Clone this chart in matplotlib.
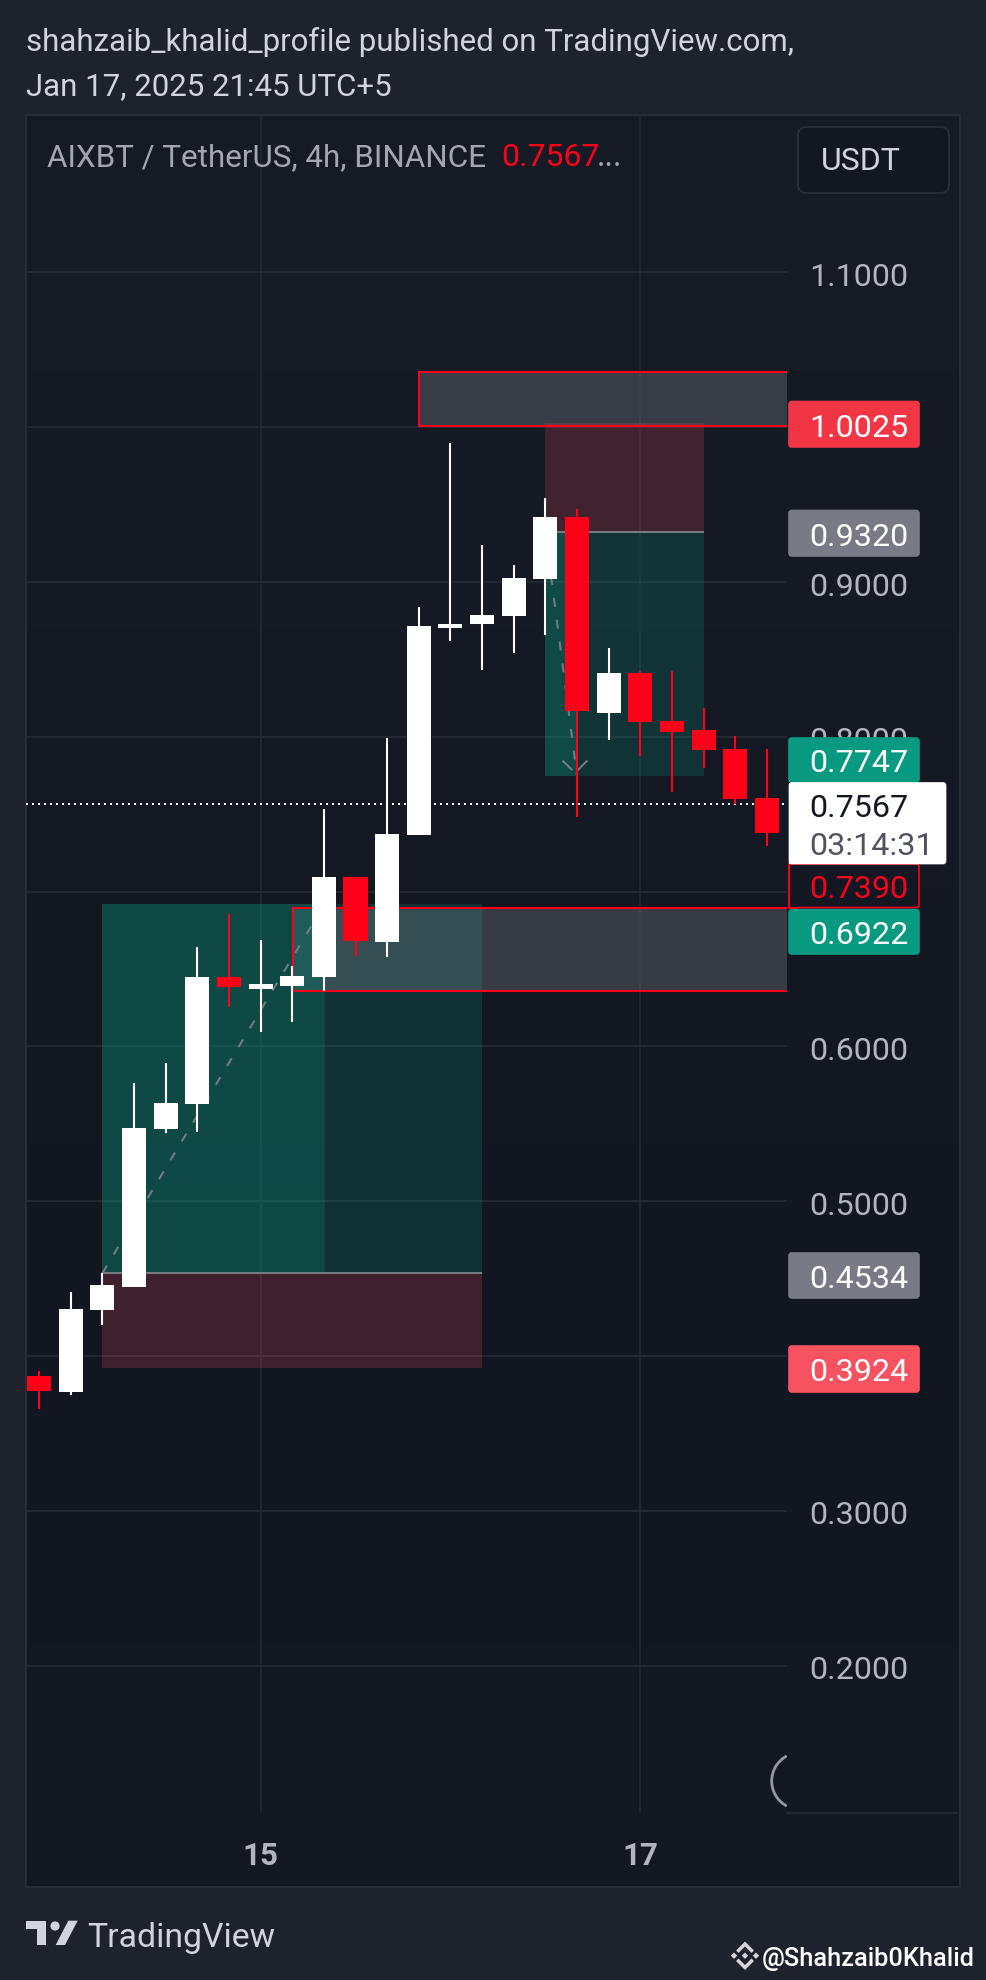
import numpy as np
import matplotlib
matplotlib.use("Agg")
import matplotlib.pyplot as plt
from matplotlib.patches import Rectangle, FancyBboxPatch, Circle, Polygon, Arc
from matplotlib.transforms import ScaledTranslation

plt.rcParams['font.family'] = ['Roboto', 'DejaVu Sans']

# ---------- data ----------
high  = [0.3905,0.4416,0.4539,0.5766,0.5895,0.6644,0.6858,0.6690,0.6522,0.7536,0.7097,0.7995,
         0.8841,0.9896,0.9241,0.9112,0.9545,0.9474,0.8576,0.8423,0.8427,0.8188,0.8007,0.7923]
upper = [0.3873,0.4306,0.4461,0.5475,0.5637,0.6451,0.6451,0.6402,0.6457,0.7097,0.7097,0.7374,
         0.8718,0.8728,0.8785,0.9028,0.9422,0.9422,0.8414,0.8414,0.8104,0.8046,0.7923,0.7607]
lower = [0.3776,0.3770,0.4299,0.4448,0.5469,0.5630,0.6383,0.6373,0.6392,0.6451,0.6683,0.6677,
         0.7365,0.8705,0.8728,0.8783,0.9022,0.8164,0.8156,0.8098,0.8033,0.7917,0.7601,0.7381]
low   = [0.3656,0.3750,0.4203,0.4448,0.5443,0.5449,0.6254,0.6095,0.6160,0.6360,0.6586,0.6580,
         0.7365,0.8621,0.8434,0.8544,0.8660,0.7480,0.7982,0.7878,0.7646,0.7801,0.7568,0.7297]
rising = [0,1,1,1,1,1,0,1,1,1,0,1,1,1,1,1,1,0,1,0,0,0,0,0]

price_ticks = [1.1, 0.9, 0.8, 0.6, 0.5, 0.3, 0.2]
grid_prices = [1.1, 1.0, 0.9, 0.8, 0.7, 0.6, 0.5, 0.4, 0.3, 0.2]
day_ticks = [7, 19]
day_labels = ['15', '17']
last_price = 0.7567

# positions: start, split, end, target, entry, stop
pos_start  = [2, 16]
pos_split  = [9.03, 17]
pos_end    = [14, 21]
pos_target = [0.6922, 0.7747]
pos_entry  = [0.4534, 0.9320]
pos_stop   = [0.3924, 1.0025]

zone_start = [12, 8.03]
zone_top   = [1.0356, 0.6896]
zone_bot   = [1.0006, 0.6360]

# ---------- figure / layers ----------
W, H = 986, 1981
fig = plt.figure(figsize=(W/100, H/100), dpi=100, facecolor='#1e222d')
def rect(x0, y0, x1, y1):
    return [x0/W, 1-y1/H, (x1-x0)/W, (y1-y0)/H]

GRID = '#252934'
AXTXT = '#b2b5be'
Y11 = 273.4   # pixel row of the 1.1 grid line

bg = fig.add_axes([0, 0, 1, 1], zorder=0)
bg.set_xlim(0, W); bg.set_ylim(H, 0); bg.axis('off')
rows = np.arange(116, 1888)
grad = np.stack([np.interp(rows, [116, 1400, 1888], [a, b, c]) for a, b, c in
                 ((23, 18, 20), (27, 22, 24), (38, 32, 34))], axis=1)[:, None, :] / 255
bg.imshow(grad, extent=(26, 960, 1888, 116), aspect='auto', interpolation='bilinear', zorder=0)
bg.set_xlim(0, W); bg.set_ylim(H, 0)
bg.add_patch(Rectangle((26, 116), 934, 1772, fc='none', ec='#292d38', lw=1.4, zorder=1))
bg.plot([787, 960], [1814, 1814], color='#292d38', lw=1.1, zorder=1)

ax = fig.add_axes(rect(26, 116, 787, 1814), zorder=1)
ax.patch.set_alpha(0)
ax.set_xlim((26-39)/31.65, (787-39)/31.65)
ax.set_ylim(1.1-(1814-Y11)/1548, 1.1+(Y11-116)/1548)
for s in ax.spines.values():
    s.set_visible(False)
ax.set_axisbelow(True)
ax.yaxis.tick_right()
ax.set_yticks(price_ticks, [f'{p:.4f}' for p in price_ticks])
ax.set_xticks(day_ticks, day_labels)
ax.tick_params(axis='y', which='both', length=0, pad=16.3, labelsize=23.2, labelcolor=AXTXT)
ax.tick_params(axis='x', length=0, pad=19.5, labelsize=22.5, labelcolor=AXTXT)
for t in ax.get_xticklabels():
    t.set_fontweight('bold')
for g in grid_prices:
    ax.axhline(g, color=GRID, lw=1.3, zorder=0.5)
for d in day_ticks:
    ax.axvline(d, color=GRID, lw=1.1, zorder=0.5)

# positions
for i in range(2):
    s, m, e = pos_start[i], pos_split[i], pos_end[i]
    tgt, en, st = pos_target[i], pos_entry[i], pos_stop[i]
    ax.add_patch(Rectangle((s, en), m-s, tgt-en, fc='#089981', alpha=0.39, ec='none', zorder=2))
    ax.add_patch(Rectangle((m, en), e-m, tgt-en, fc='#089981', alpha=0.21, ec='none', zorder=2))
    ax.add_patch(Rectangle((s, en), e-s, st-en, fc='#f25060', alpha=0.20, ec='none', zorder=2))
    ax.plot([s, e], [en, en], color='#787b86', lw=1.44, zorder=2.1, solid_capstyle='butt')

# zones
right = ax.get_xlim()[1] + 1
for x0, t, b in zip(zone_start, zone_top, zone_bot):
    ax.add_patch(Rectangle((x0, b), right-x0, t-b, fc='#8c8f99', alpha=0.30, ec='none', zorder=2.2))
    ax.add_patch(Rectangle((x0, b), right-x0, t-b, fc='none', ec='#f7021a', lw=1.5, zorder=2.3))
# zone over the brighter part of the first position reads more teal
ax.add_patch(Rectangle((zone_start[1], zone_bot[1]), pos_split[0]-zone_start[1], zone_top[1]-zone_bot[1],
                       fc='#0d5c55', alpha=0.55, ec='none', zorder=2.25))

# path arrows of the two positions
ax.plot([pos_start[0], pos_split[0]], [pos_entry[0], pos_target[0]], color='#787b86', lw=1.44,
        ls=(0, (4.5, 6.5)), zorder=2.4)
ax.plot([pos_start[1], pos_split[1]], [pos_entry[1], pos_target[1]], color='#787b86', lw=1.44,
        ls=(0, (4.5, 6.5)), zorder=2.4)
tipx, tipy = pos_split[1]-0.06, pos_target[1]+0.002
for dx, dy in ((-0.38, 0.0075), (0.36, 0.0075)):
    ax.plot([tipx+dx, tipx+dx*0.3], [tipy+dy, tipy+dy*0.3], color='#787b86', lw=1.44, zorder=2.4)

# last-price dotted line
ax.axhline(last_price, color='white', lw=1.44, ls=(0, (1, 2)), zorder=2.5)

# candles
for k in range(len(high)):
    c = '#ffffff' if rising[k] else '#ff0018'
    ax.vlines(k, low[k], high[k], color=c, lw=1.5, zorder=3)
    ax.bar(k, upper[k]-lower[k], bottom=lower[k], width=0.76, color=c, lw=0, zorder=3.1)

# nudge the price-scale labels down a pixel
shift = ScaledTranslation(0, -1/100, fig.dpi_scale_trans)
for t in ax.get_yticklabels():
    t.set_transform(t.get_transform() + shift)

# ---------- overlay ----------
ov = fig.add_axes([0, 0, 1, 1], zorder=2)
ov.set_xlim(0, W); ov.set_ylim(H, 0); ov.axis('off'); ov.patch.set_alpha(0)

TX = 809

def badge(y0, y1, fc, label, tc='white', ec=None, x1=919):
    ov.add_patch(FancyBboxPatch((789, y0), x1-789, y1-y0, boxstyle='round,pad=0,rounding_size=3',
                                fc=fc, ec=ec or fc, lw=1.2, zorder=3))
    ov.add_patch(Rectangle((789, y0), 8, y1-y0, fc=fc, ec='none', zorder=3.1))
    if ec:
        ov.plot([789, 797], [y0, y0], color=ec, lw=1.4, zorder=3.2)
        ov.plot([789, 797], [y1, y1], color=ec, lw=1.4, zorder=3.2)
        ov.plot([789, 789], [y0, y1], color=ec, lw=1.4, zorder=3.2)
    ov.text(TX, (y0+y1)/2+11.5, label, color=tc, fontsize=23.2, va='baseline', ha='left', zorder=4)

badge(402.5, 448, '#f23645', '1.0025')
badge(511.5, 557, '#787b86', '0.9320')
badge(739, 783, '#089981', '0.7747')
badge(910.5, 955, '#089981', '0.6922')
badge(865, 908.5, '#131722', '0.7390', tc='#f7021a', ec='#f7021a')
badge(1254, 1299, '#787b86', '0.4534')
badge(1347, 1393, '#f7525f', '0.3924')
# last price box
ov.add_patch(FancyBboxPatch((789, 783.5), 946-789, 81.5, boxstyle='round,pad=0,rounding_size=3',
                            fc='white', ec='white', lw=0.5, zorder=5))
ov.add_patch(Rectangle((789, 783.5), 8, 81.5, fc='white', ec='none', zorder=5.1))
ov.text(TX, 817, '0.7567', color='#131722', fontsize=23.2, va='baseline', zorder=6)
ov.text(TX, 855, '03:14:31', color='#50535e', fontsize=23.2, va='baseline', zorder=6)

# header
HDR = '#d1d4dc'
ov.text(26, 51, 'shahzaib_khalid_profile published on TradingView.com,', color=HDR, fontsize=22.5, va='baseline')
ov.text(26, 95, 'Jan 17, 2025 21:45 UTC+5', color=HDR, fontsize=22.5, va='baseline')
ov.text(47, 166.5, 'AIXBT / TetherUS, 4h, BINANCE', color='#a3a6af', fontsize=22.6, va='baseline')
ov.text(501.5, 166.5, '0.7567', color='#f7021a', fontsize=23, va='baseline')
ov.text(597, 166.5, '...', color='#a3a6af', fontsize=23.5, va='baseline')

# unit button
ov.add_patch(FancyBboxPatch((798, 128), 151, 66, boxstyle='round,pad=0,rounding_size=9',
                            fc='#131722', ec='#2a2e39', lw=1.3))
ov.text(821, 170, 'USDT', color=HDR, fontsize=23, va='baseline')

# loading arc clipped at the pane edge
arc = Arc((800, 1782), 56.6, 56.6, theta1=118, theta2=242, color='#9598a1', lw=2)
ov.add_patch(arc)
arc.set_clip_path(Rectangle((760, 1740), 27, 80, transform=ov.transData))

# TradingView logo
logo = '#d1d4dc'
ov.add_patch(Polygon([(26, 1921.7), (46, 1921.7), (46, 1946), (36.7, 1946), (36.7, 1930), (26, 1930)], fc=logo, ec='none'))
ov.add_patch(Circle((55, 1927), 4.6, fc=logo, ec='none'))
ov.add_patch(Polygon([(68.3, 1921.7), (77.7, 1921.7), (65, 1946), (55.7, 1946)], fc=logo, ec='none'))
ov.text(87.5, 1947, 'TradingView', color=HDR, fontsize=24.3, va='baseline')

# watermark
wm = '#d6d6d6'
for cx in (734, 745, 756):
    ov.add_patch(Polygon([(cx-3.2, 1956.7), (cx, 1953.5), (cx+3.2, 1956.7), (cx, 1959.9)], fc=wm, ec='none'))
ov.plot([738.5, 745, 751.5], [1951.5, 1945, 1951.5], color=wm, lw=2.5, solid_joinstyle='miter')
ov.plot([738.5, 745, 751.5], [1962, 1968.5, 1962], color=wm, lw=2.5, solid_joinstyle='miter')
ov.text(762, 1966, '@Shahzaib0Khalid', color='white', fontsize=18.3, va='baseline', fontweight='medium')

fig.savefig('out.png', dpi=100, facecolor=fig.get_facecolor())
